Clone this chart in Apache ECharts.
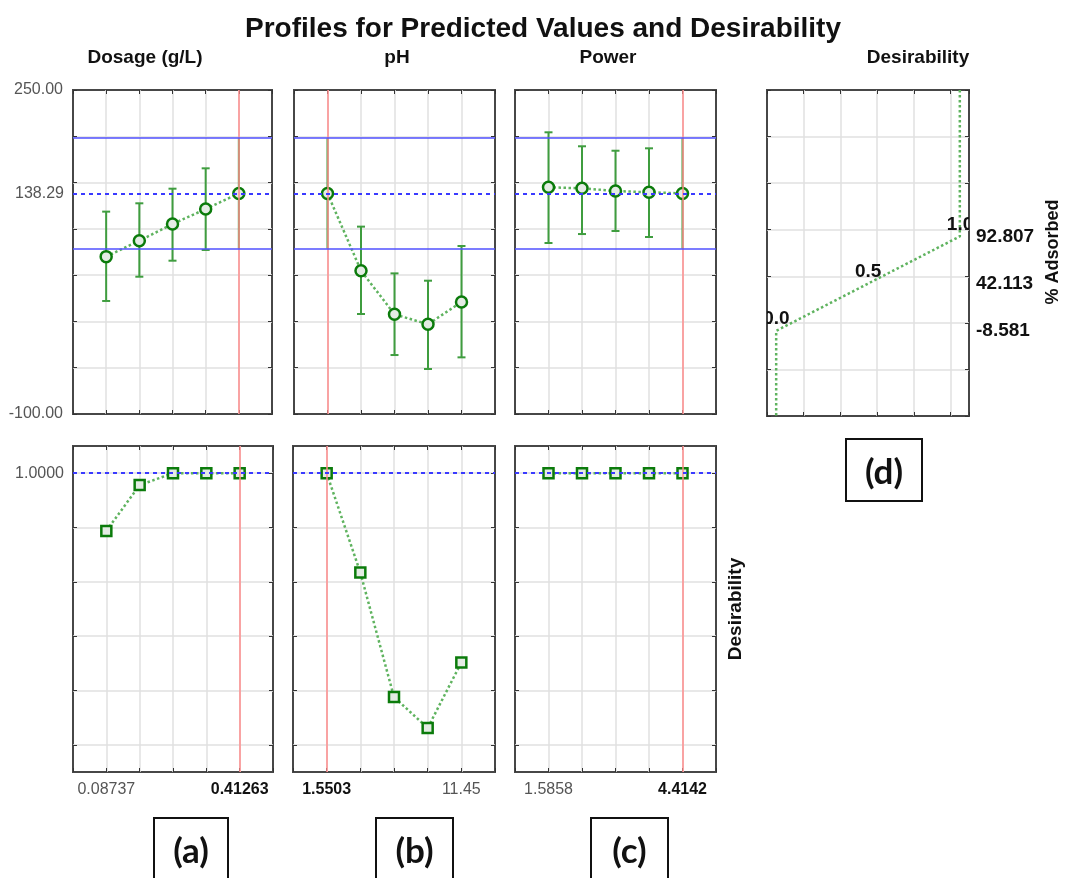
<!DOCTYPE html>
<html><head><meta charset="utf-8">
<script src="https://cdn.jsdelivr.net/npm/echarts@6/dist/echarts.min.js"></script>
<style>html,body{margin:0;padding:0;background:#fff}#c{width:1065px;height:878px}</style>
</head><body><div id="c"></div>
<script>
// ---------- data ----------
const factorNames = ['Dosage (g/L)', 'pH', 'Power'];
const dosageTicks = ['0.08737', '', '', '', '0.41263'];
const phTicks = ['1.5503', '', '', '', '11.45'];
const powerTicks = ['1.5858', '', '', '', '4.4142'];

const dosagePred = [70.0, 87.2, 105.2, 121.4, 138.29];
const dosageLo   = [22.1, 48.3, 65.6, 77.2, 78.6];
const dosageHi   = [118.6, 127.6, 143.4, 165.4, 198.0];

const phPred = [138.29, 54.8, 7.7, -3.1, 21.0];
const phLo   = [78.6, 8.0, -36.3, -51.4, -38.8];
const phHi   = [198.0, 102.4, 51.9, 44.0, 81.5];

const powerPred = [144.9, 143.8, 140.9, 139.5, 138.29];
const powerLo   = [84.7, 94.4, 97.7, 91.2, 78.6];
const powerHi   = [204.3, 189.2, 184.4, 187.0, 198.0];

const dosageDes = [0.7875, 0.956, 1.0, 1.0, 1.0];
const phDes     = [1.0, 0.634, 0.176, 0.062, 0.303];
const powerDes  = [1.0, 1.0, 1.0, 1.0, 1.0];

const currentIndex = [4, 0, 4];
const currentPred = 138.29;
const ciLow = 78.6, ciHigh = 198.0;
const predMin = -100, predMax = 250;
const predMinLabel = '-100.00', predMaxLabel = '250.00', currentPredLabel = '138.29';
const desTopLabel = '1.0000';
const desGridValues = [0, 0.2, 0.4, 0.6, 0.8, 1.0];

const desCurveD = [1, 1, 0.5, 0, 0];
const desCurveY = [250, 92.807, 42.113, -8.581, -100];
const desLevels = [0.0, 0.5, 1.0];
const desLevelValues = [-8.581, 42.113, 92.807];

// ---------- layout / style ----------
const FONT = 'Liberation Sans, Arial, sans-serif';
const GREEN_BAR = '#3f9d3f', GREEN_DOT = '#5fb35f', GREEN_EDGE = '#0b7b0b';
const GRID_C = '#e0e0e0', FRAME_C = '#474747', TICK_C = '#333';
const RED = '#ff8c8c', BLUE = '#5050ff', BLUE_D = '#3a3aff';

const grids = [
  {left: 73,  top: 90,  width: 199, height: 324},
  {left: 294, top: 90,  width: 201, height: 324},
  {left: 515, top: 90,  width: 201, height: 324},
  {left: 767, top: 90,  width: 202, height: 326},
  {left: 73,  top: 446, width: 200, height: 326},
  {left: 293, top: 446, width: 202, height: 326},
  {left: 515, top: 446, width: 201, height: 326}
].map(g => Object.assign({show: true, borderColor: FRAME_C, borderWidth: 2, backgroundColor: '#fff', z: 0}, g));

const preds = [dosagePred, phPred, powerPred];
const los = [dosageLo, phLo, powerLo];
const his = [dosageHi, phHi, powerHi];
const dess = [dosageDes, phDes, powerDes];
const tickSets = [dosageTicks, phTicks, powerTicks];

const xAxes = [], yAxes = [], series = [];
const tickIn = {show: true, inside: true, length: 4, lineStyle: {color: TICK_C, width: 1}};
const split = {show: true, showMinLine: false, showMaxLine: false, lineStyle: {color: GRID_C, width: 1.5}};
const noLine = {show: false, onZero: false};

function baseX(g, extra) {
  return Object.assign({type: 'value', gridIndex: g, min: -1, max: 5, interval: 1, position: 'bottom',
    axisLine: noLine, axisTick: tickIn, axisLabel: {show: false}, splitLine: split}, extra || {});
}
function predY(g, extra) {
  return Object.assign({type: 'value', gridIndex: g, min: predMin, max: predMax, interval: 50, position: 'left',
    axisLine: noLine, axisTick: tickIn, axisLabel: {show: false}, splitLine: split}, extra || {});
}
function desY(g, extra) {
  return Object.assign({type: 'value', gridIndex: g, min: -0.1, max: 1.1, interval: 0.1, position: 'left',
    axisLine: noLine,
    axisTick: Object.assign({}, tickIn, {customValues: desGridValues}),
    axisLabel: {show: false},
    splitLine: {show: true, showMinLine: true, showMaxLine: true, lineStyle: {color: GRID_C, width: 1.5}}}, extra || {});
}

// main axes 0..6
for (let f = 0; f < 3; f++) {
  xAxes.push(baseX(f));
  yAxes.push(predY(f, f === 0 ? {axisLabel: {show: true, margin: 10, color: '#555', fontSize: 16, fontFamily: FONT,
    formatter: v => v === predMax ? predMaxLabel : (v === predMin ? predMinLabel : '')}} : {}));
}
xAxes.push({type: 'value', gridIndex: 3, min: -0.05, max: 1.05, interval: 0.2, position: 'bottom',
  axisLine: noLine, axisTick: tickIn, axisLabel: {show: false}, splitLine: split});
yAxes.push(predY(3));
for (let f = 0; f < 3; f++) {
  const ticks = tickSets[f], cur = currentIndex[f];
  xAxes.push(baseX(4 + f, {axisLabel: {show: true, margin: 10, color: '#555', fontSize: 16, fontFamily: FONT,
    formatter: v => (v >= 0 && v < ticks.length && ticks[v]) ? (v === cur ? '{b|' + ticks[v] + '}' : ticks[v]) : '',
    rich: {b: {fontWeight: 'bold', color: '#111', fontSize: 16, fontFamily: FONT}}}}));
  yAxes.push(desY(4 + f));
}
// secondary axes (ticks on top / right edges) 7..13
for (let g = 0; g < 7; g++) {
  const xa = Object.assign({}, xAxes[g], {position: 'top', axisLabel: {show: false}, splitLine: {show: false}});
  const ya = Object.assign({}, yAxes[g], {position: 'right', axisLabel: {show: false}, splitLine: {show: false}});
  xAxes.push(xa); yAxes.push(ya);
}

const markBase = {silent: true, symbol: 'none', animation: false, label: {show: false}};

// top panels
for (let f = 0; f < 3; f++) {
  const cur = currentIndex[f], pred = preds[f], lo = los[f], hi = his[f];
  const mlData = [
    {xAxis: cur, lineStyle: {color: RED, width: 1.5, type: 'solid'}},
    {yAxis: ciHigh, lineStyle: {color: BLUE, width: 1.5, type: 'solid'}},
    {yAxis: ciLow, lineStyle: {color: BLUE, width: 1.5, type: 'solid'}},
    Object.assign({yAxis: currentPred, lineStyle: {color: BLUE_D, width: 2, type: [4, 4]}},
      f === 0 ? {label: {show: true, position: 'start', distance: 9, formatter: currentPredLabel,
        color: '#555', fontSize: 16, fontFamily: FONT}} : {})
  ];
  series.push({
    type: 'custom', xAxisIndex: f, yAxisIndex: f, z: 2, animation: false, silent: true,
    encode: {x: 0, y: [1, 2]},
    data: pred.map((p, i) => [i, lo[i], hi[i]]),
    renderItem: (params, api) => {
      const i = api.value(0);
      const a = api.coord([i, api.value(1)]), b = api.coord([i, api.value(2)]);
      const st = {stroke: GREEN_BAR, lineWidth: 2};
      const ch = [{type: 'line', shape: {x1: a[0], y1: a[1], x2: b[0], y2: b[1]}, style: st}];
      if (i !== cur) {
        ch.push({type: 'line', shape: {x1: a[0] - 4, y1: a[1], x2: a[0] + 4, y2: a[1]}, style: st});
        ch.push({type: 'line', shape: {x1: b[0] - 4, y1: b[1], x2: b[0] + 4, y2: b[1]}, style: st});
      }
      return {type: 'group', children: ch};
    },
    markLine: Object.assign({}, markBase, {data: mlData})
  });
  series.push({
    type: 'line', xAxisIndex: f, yAxisIndex: f, z: 3, animation: false, silent: true,
    data: pred.map((p, i) => [i, p]),
    symbol: 'circle', symbolSize: 11,
    itemStyle: {color: '#e4ece4', borderColor: GREEN_EDGE, borderWidth: 2.5},
    lineStyle: {color: GREEN_DOT, width: 2.5, type: 'dotted'}
  });
}

// bottom panels
for (let f = 0; f < 3; f++) {
  const g = 4 + f, cur = currentIndex[f], des = dess[f];
  series.push({
    type: 'line', xAxisIndex: g, yAxisIndex: g, z: 3, animation: false, silent: true,
    data: des.map((d, i) => [i, d]),
    symbol: 'rect', symbolSize: 10,
    itemStyle: {color: '#e4ece4', borderColor: GREEN_EDGE, borderWidth: 2.5},
    lineStyle: {color: GREEN_DOT, width: 2.5, type: 'dotted'},
    markLine: Object.assign({}, markBase, {data: [
      {xAxis: cur, lineStyle: {color: RED, width: 1.5, type: 'solid'}},
      Object.assign({yAxis: 1.0, lineStyle: {color: BLUE_D, width: 2, type: [4, 4]}},
        f === 0 ? {label: {show: true, position: 'start', distance: 9, formatter: desTopLabel,
          color: '#555', fontSize: 16, fontFamily: FONT}} : {})
    ]})
  });
}

// desirability function panel
series.push({
  type: 'line', xAxisIndex: 3, yAxisIndex: 3, z: 3, animation: false, silent: true,
  data: desCurveD.map((d, i) => [d, desCurveY[i]]),
  symbol: 'none', lineStyle: {color: GREEN_DOT, width: 2.5, type: 'dotted'}
});
series.push({
  type: 'custom', xAxisIndex: 3, yAxisIndex: 3, z: 4, clip: true, animation: false, silent: true,
  data: desLevels.map((d, i) => [d, desLevelValues[i]]),
  renderItem: (params, api) => {
    const p = api.coord([api.value(0), api.value(1)]);
    const cs = params.coordSys;
    return {type: 'group',
      clipPath: {type: 'rect', shape: {x: cs.x, y: cs.y, width: cs.width, height: cs.height}},
      children: [{type: 'text', x: p[0] - 13, y: p[1] - 12,
        style: {text: api.value(0).toFixed(1), fill: '#111', font: 'bold 19px ' + FONT,
          textAlign: 'left', textVerticalAlign: 'middle', align: 'left', verticalAlign: 'middle'}}]};
  }
});
series.push({
  type: 'custom', xAxisIndex: 3, yAxisIndex: 3, z: 4, clip: false, animation: false, silent: true,
  data: desLevelValues.map(v => [1.05, v]),
  renderItem: (params, api) => {
    const p = api.coord([api.value(0), api.value(1)]);
    return {type: 'text', x: p[0] + 7, y: p[1],
      style: {text: api.value(1).toFixed(3), fill: '#111', font: 'bold 19px ' + FONT,
        textAlign: 'left', textVerticalAlign: 'middle', align: 'left', verticalAlign: 'middle'}};
  }
});

// ---------- texts ----------
function txt(x, y, text, font, extra) {
  return Object.assign({type: 'text', x: x, y: y, silent: true,
    style: {text: text, font: font, fill: '#111', textAlign: 'center', textVerticalAlign: 'middle',
      align: 'center', verticalAlign: 'middle'}}, extra || {});
}
function box(x, y, w, h, label) {
  return [
    {type: 'rect', shape: {x: x, y: y, width: w, height: h}, silent: true,
      style: {fill: '#fff', stroke: '#111', lineWidth: 2}},
    txt(x + w / 2, y + 34, label, 'bold 35px Lato, Open Sans, sans-serif')
  ];
}
const colTitleX = [145, 397, 608];
const graphics = [
  txt(543, 29, 'Profiles for Predicted Values and Desirability', 'bold 28px ' + FONT),
  ...factorNames.map((n, i) => txt(colTitleX[i], 58, n, 'bold 19px ' + FONT)),
  txt(918, 58, 'Desirability', 'bold 19px ' + FONT),
  txt(1053, 252, '% Adsorbed', 'bold 18px ' + FONT, {rotation: Math.PI / 2}),
  txt(736, 609, 'Desirability', 'bold 19px ' + FONT, {rotation: Math.PI / 2}),
  ...box(154, 818, 74, 70, '(a)'),
  ...box(376, 818, 77, 70, '(b)'),
  ...box(591, 818, 77, 70, '(c)'),
  ...box(846, 439, 76, 62, '(d)')
];

const chart = echarts.init(document.getElementById('c'), null, {renderer: 'canvas'});
chart.setOption({
  animation: false,
  backgroundColor: '#fff',
  textStyle: {fontFamily: FONT},
  grid: grids,
  xAxis: xAxes,
  yAxis: yAxes,
  series: series,
  graphic: graphics
});
</script></body></html>
